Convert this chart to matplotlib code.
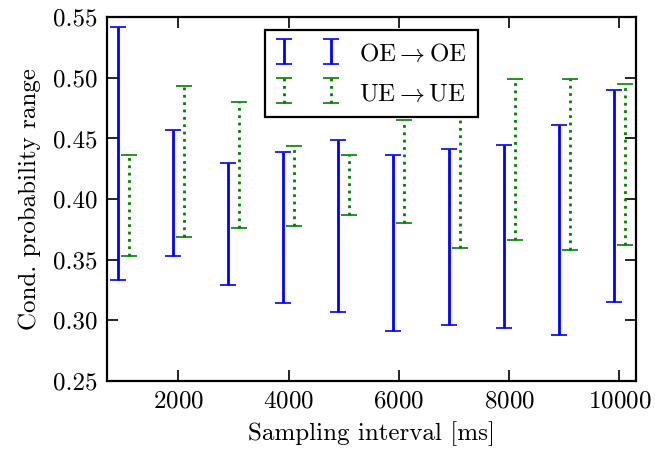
import matplotlib
matplotlib.use("Agg")
import matplotlib.pyplot as plt
import numpy as np

plt.rcParams["font.family"] = "serif"
plt.rcParams["font.serif"] = ["cmr10"]
plt.rcParams["mathtext.fontset"] = "cm"
plt.rcParams["axes.formatter.use_mathtext"] = True
plt.rcParams["axes.unicode_minus"] = False

# sampling intervals [ms]
intervals = [1000, 2000, 3000, 4000, 5000, 6000, 7000, 8000, 9000, 10000]

# conditional probability ranges (low, high)
oe_low = [0.333, 0.353, 0.329, 0.314, 0.307, 0.291, 0.296, 0.294, 0.288, 0.315]
oe_high = [0.542, 0.457, 0.430, 0.439, 0.449, 0.436, 0.441, 0.445, 0.461, 0.490]
ue_low = [0.353, 0.369, 0.376, 0.378, 0.387, 0.380, 0.360, 0.366, 0.358, 0.362]
ue_high = [0.436, 0.493, 0.480, 0.444, 0.436, 0.465, 0.478, 0.499, 0.499, 0.495]

def mid_err(lo, hi):
    lo = np.array(lo)
    hi = np.array(hi)
    mid = (lo + hi) / 2
    return mid, (hi - lo) / 2

x = np.array(intervals)
fig = plt.figure(figsize=(6.55, 4.51), dpi=100)
ax = fig.add_axes([0.163, 0.155, 0.808, 0.807])

m1, e1 = mid_err(oe_low, oe_high)
m2, e2 = mid_err(ue_low, ue_high)

eb1 = ax.errorbar(x - 100, m1, yerr=e1, fmt="none", ecolor="blue",
                  elinewidth=2, capsize=6, capthick=1.2,
                  label=r"OE$\rightarrow$OE")
eb2 = ax.errorbar(x + 100, m2, yerr=e2, fmt="none", ecolor="green",
                  elinewidth=2, capsize=6, capthick=1.2,
                  label=r"UE$\rightarrow$UE")
eb2[2][0].set_linestyle(":")

ax.set_xlim(700, 10300)
ax.set_ylim(0.25, 0.55)
ax.set_xticks([2000, 4000, 6000, 8000, 10000])
ax.set_yticks(np.arange(0.25, 0.551, 0.05))
ax.yaxis.set_major_formatter(matplotlib.ticker.FormatStrFormatter("%.2f"))
ax.tick_params(direction="in", length=8, width=1.2, top=True, right=True,
               labelsize=18, pad=7)
for s in ax.spines.values():
    s.set_linewidth(1.6)

ax.set_xlabel("Sampling interval [ms]", fontsize=18, labelpad=6)
ax.set_ylabel("Cond. probability range", fontsize=18, labelpad=8)

leg = ax.legend(loc="upper center", numpoints=2, fontsize=18,
                fancybox=False, framealpha=1, edgecolor="black",
                borderaxespad=0.5, handlelength=2.5, labelspacing=0.55,
                borderpad=0.45, handleheight=1.1)
leg.get_frame().set_linewidth(1.6)

fig.savefig("out.png", dpi=100)
